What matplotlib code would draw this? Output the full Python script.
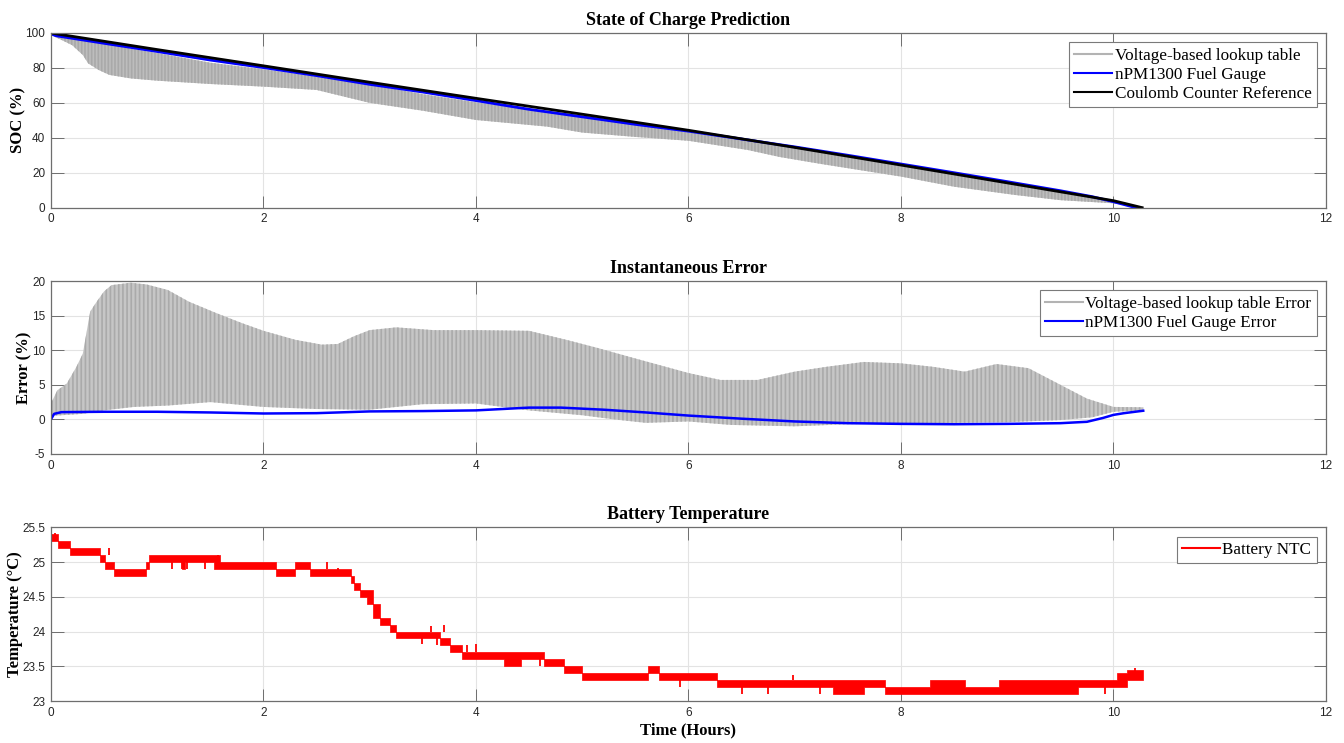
import matplotlib
matplotlib.use("Agg")
import matplotlib.pyplot as plt
from matplotlib.lines import Line2D
from matplotlib.ticker import FormatStrFormatter

plt.rcParams['font.family'] = ['Liberation Serif', 'DejaVu Serif']
plt.rcParams['axes.unicode_minus'] = False
plt.rcParams['hatch.linewidth'] = 1.2

# ---- State of charge (%) ----
coulomb_t = [0, 1, 2, 3, 4, 5, 6, 7, 8, 9, 10, 10.27]
coulomb_soc = [100, 90.5, 81.2, 71.8, 62.6, 53.5, 44.3, 34.5, 24.4, 14.2, 4.0, 0.0]

gauge_t = [0, 0.05, 0.5, 1, 1.5, 2, 2.5, 3, 3.5, 4, 4.5, 5, 5.5, 6, 6.5, 7,
           7.5, 8, 8.5, 9, 9.5, 9.8, 10.0, 10.21]
gauge_soc = [99.5, 98.4, 94.1, 89.4, 84.5, 80.2, 75.6, 70.6, 66.2, 61.3, 56.3,
             52.0, 47.7, 43.8, 39.3, 34.8, 30.0, 25.0, 20.0, 14.9, 9.7, 6.3, 3.4, 0.0]

# lookup table oscillates, kept as upper / lower envelope
lookup_t = [0, 0.1, 0.2, 0.3, 0.35, 0.45, 0.55, 0.75, 1.0, 1.5, 2.0, 2.5, 3.0,
            3.5, 4.0, 4.67, 5.0, 5.5, 6.0, 6.56, 6.86, 7.25, 8.0, 8.5, 9.07,
            9.5, 10.0, 10.28]
lookup_soc_hi = [99.5, 98.5, 97.5, 96.3, 95.8, 94.8, 93.5, 91.0, 88.5, 83.0,
                 79.2, 75.0, 70.4, 65.0, 60.3, 55.0, 52.9, 48.8, 44.5, 39.5,
                 36.5, 32.5, 25.0, 19.8, 14.0, 9.5, 3.0, 0.5]
lookup_soc_lo = [98.8, 96.0, 93.0, 87.4, 82.6, 78.8, 76.0, 74.0, 72.7, 70.8,
                 69.3, 67.4, 60.0, 55.5, 50.2, 46.4, 43.0, 40.5, 38.3, 33.0,
                 29.0, 25.0, 17.8, 12.0, 7.3, 4.3, 2.5, 0.0]

# ---- Instantaneous error (%) ----
gauge_err_t = [0, 0.03, 0.1, 0.5, 1.0, 1.5, 2.0, 2.5, 3.0, 3.5, 4.0, 4.5, 4.8,
               5.2, 5.6, 6.0, 6.5, 7.0, 7.5, 8.0, 8.5, 9.0, 9.5, 9.75, 9.9,
               10.0, 10.1, 10.28]
gauge_err = [0, 0.8, 1.05, 1.1, 1.1, 1.0, 0.85, 0.9, 1.15, 1.2, 1.3, 1.7, 1.7,
             1.4, 1.0, 0.55, 0.1, -0.3, -0.55, -0.65, -0.7, -0.65, -0.55,
             -0.35, 0.2, 0.65, 0.9, 1.25]

lookup_err_hi_t = [0, 0.06, 0.15, 0.24, 0.3, 0.37, 0.43, 0.5, 0.57, 0.75, 0.9,
                   1.1, 1.3, 1.55, 1.8, 2.0, 2.3, 2.55, 2.7, 2.85, 3.0, 3.25,
                   3.6, 4.0, 4.5, 4.85, 5.15, 5.5, 6.0, 6.3, 6.65, 7.0, 7.3,
                   7.65, 8.0, 8.3, 8.6, 8.9, 9.2, 9.5, 9.75, 10.0, 10.28]
lookup_err_hi = [2.3, 4.2, 5.2, 7.6, 9.5, 15.6, 17.0, 18.5, 19.4, 19.75, 19.5,
                 18.7, 17.0, 15.4, 13.9, 12.8, 11.5, 10.8, 10.9, 12.0, 12.9,
                 13.3, 12.9, 12.9, 12.8, 11.5, 10.3, 8.8, 6.7, 5.7, 5.7, 6.9,
                 7.6, 8.3, 8.1, 7.6, 6.9, 8.0, 7.4, 5.0, 3.0, 1.8, 1.75]
lookup_err_lo_t = [0, 0.1, 0.3, 0.5, 0.78, 1.1, 1.5, 2.0, 2.5, 3.0, 3.5, 4.0,
                   4.5, 5.0, 5.3, 5.6, 6.0, 6.4, 7.0, 7.5, 8.0, 8.5, 9.0, 9.5,
                   9.8, 10.0, 10.28]
lookup_err_lo = [0.5, 0.6, 0.8, 1.3, 1.8, 2.0, 2.5, 1.8, 1.5, 1.4, 2.2, 2.3,
                 1.3, 0.6, 0.0, -0.5, -0.3, -0.8, -1.0, -0.7, -0.6, -0.5,
                 -0.4, -0.1, 0.3, 1.1, 1.3]

# ---- Battery temperature (°C): NTC flickers between two levels ----
temp_t = [0.00, 0.07, 0.18, 0.46, 0.51, 0.59, 0.89, 0.92, 1.23, 1.26, 1.53,
          1.59, 2.12, 2.30, 2.44, 2.82, 2.85, 2.91, 2.97, 3.03, 3.10, 3.19,
          3.25, 3.66, 3.76, 3.87, 4.26, 4.42, 4.64, 4.83, 5.00, 5.62, 5.72,
          6.27, 7.36, 7.65, 7.85, 8.27, 8.60, 8.92, 9.67, 10.03, 10.13, 10.28]
temp_lo = [25.3, 25.2, 25.1, 25.0, 24.9, 24.8, 24.9, 25.0, 24.9, 25.0, 24.9,
           24.9, 24.8, 24.9, 24.8, 24.7, 24.6, 24.5, 24.4, 24.2, 24.1, 24.0,
           23.9, 23.8, 23.7, 23.6, 23.5, 23.6, 23.5, 23.4, 23.3, 23.4, 23.3,
           23.2, 23.1, 23.2, 23.1, 23.1, 23.1, 23.1, 23.2, 23.2, 23.3, 23.3]
temp_hi = [25.4, 25.3, 25.2, 25.1, 25.0, 24.9, 25.0, 25.1, 25.1, 25.1, 25.1,
           25.0, 24.9, 25.0, 24.9, 24.8, 24.7, 24.6, 24.6, 24.4, 24.2, 24.1,
           24.0, 23.9, 23.8, 23.7, 23.7, 23.7, 23.6, 23.5, 23.4, 23.5, 23.4,
           23.3, 23.3, 23.3, 23.2, 23.3, 23.2, 23.3, 23.3, 23.4, 23.45, 23.45]
# single-sample excursions of the NTC reading
spike_t = [0.04, 0.55, 1.14, 1.23, 1.28, 1.45, 1.57, 2.60, 2.70, 3.49, 3.58,
           3.63, 3.70, 3.92, 4.00, 4.60, 5.92, 6.50, 6.75, 6.98, 7.24, 9.92,
           10.20]
spike_from = [25.3, 25.1, 25.0, 25.0, 25.0, 25.0, 25.0, 24.9, 24.8, 23.9, 24.0,
              23.9, 24.0, 23.7, 23.7, 23.6, 23.3, 23.2, 23.2, 23.3, 23.2, 23.2,
              23.4]
spike_to = [25.42, 25.2, 24.9, 24.9, 24.9, 24.9, 25.1, 25.0, 24.92, 23.82,
            24.08, 23.8, 24.1, 23.8, 23.82, 23.5, 23.2, 23.1, 23.1, 23.37, 23.1,
            23.1, 23.47]

GRAY = '#b3b3b3'


def style_axes(ax, ylim, yticks, title, ylabel, legend_handles, legend_labels):
    ax.set_xlim(0, 12)
    ax.set_xticks(range(0, 13, 2))
    ax.set_ylim(*ylim)
    ax.set_yticks(yticks)
    ax.yaxis.set_major_formatter(FormatStrFormatter('%g'))
    ax.grid(True, color='#e3e3e3', lw=0.8)
    ax.set_axisbelow(True)
    ax.tick_params(direction='in', length=9, width=0.7, color='#6e6e6e',
                   top=True, right=True, labelcolor='#262626', pad=4)
    for lbl in ax.get_xticklabels() + ax.get_yticklabels():
        lbl.set_fontfamily('Liberation Sans')
        lbl.set_fontsize(8.5)
    for sp in ax.spines.values():
        sp.set_color('#6e6e6e')
        sp.set_linewidth(0.9)
    ax.set_title(title, fontsize=13, fontweight='bold', pad=6)
    ax.set_ylabel(ylabel, fontsize=12, fontweight='bold', labelpad=-0.5)
    leg = ax.legend(legend_handles, legend_labels, loc='upper right',
                    fontsize=12.3, fancybox=False, framealpha=1,
                    edgecolor='#7a7a7a', borderaxespad=0.55, handlelength=2.2,
                    handletextpad=0.15, labelspacing=0.2, borderpad=0.3)
    leg.get_frame().set_linewidth(0.8)


fig = plt.figure(figsize=(13.44, 7.43), dpi=100)
ax1 = fig.add_axes([0.0379, 0.7205, 0.9487, 0.2351])
ax2 = fig.add_axes([0.0379, 0.3890, 0.9487, 0.2328])
ax3 = fig.add_axes([0.0379, 0.0565, 0.9487, 0.2338])

# state of charge
ax1.fill_between(lookup_t, lookup_soc_lo, lookup_soc_hi, facecolor='#bdbdbd',
                 edgecolor='#a9a9a9', hatch='|||||', lw=0)
ax1.plot(gauge_t, gauge_soc, color='#0000ff', lw=2)
ax1.plot(coulomb_t, coulomb_soc, color='black', lw=2)
style_axes(ax1, (0, 100), range(0, 101, 20), 'State of Charge Prediction',
           'SOC (%)',
           [Line2D([], [], color=GRAY, lw=1.5), Line2D([], [], color='#0000ff', lw=1.5),
            Line2D([], [], color='black', lw=1.5)],
           ['Voltage-based lookup table', 'nPM1300 Fuel Gauge',
            'Coulomb Counter Reference'])

# error
ax2.fill(lookup_err_hi_t + lookup_err_lo_t[::-1],
         lookup_err_hi + lookup_err_lo[::-1], facecolor='#c6c6c6',
         edgecolor='#aaaaaa', hatch='||||', lw=0)
ax2.plot(gauge_err_t, gauge_err, color='#0000ff', lw=1.8)
style_axes(ax2, (-5, 20), range(-5, 21, 5), 'Instantaneous Error', 'Error (%)',
           [Line2D([], [], color=GRAY, lw=1.5), Line2D([], [], color='#0000ff', lw=1.5)],
           ['Voltage-based lookup table Error', 'nPM1300 Fuel Gauge Error'])

# temperature
ax3.fill_between(temp_t, temp_lo, temp_hi, step='post', color='#ff0000', lw=0.5,
                 edgecolor='#ff0000')
ax3.vlines(spike_t, spike_from, spike_to, color='#ff0000', lw=1.3)
style_axes(ax3, (23, 25.5), [23, 23.5, 24, 24.5, 25, 25.5], 'Battery Temperature',
           'Temperature (°C)', [Line2D([], [], color='#ff0000', lw=1.5)],
           ['Battery NTC'])
ax3.set_xlabel('Time (Hours)', fontsize=12, fontweight='bold', labelpad=3)

fig.savefig('out.png', dpi=100)
